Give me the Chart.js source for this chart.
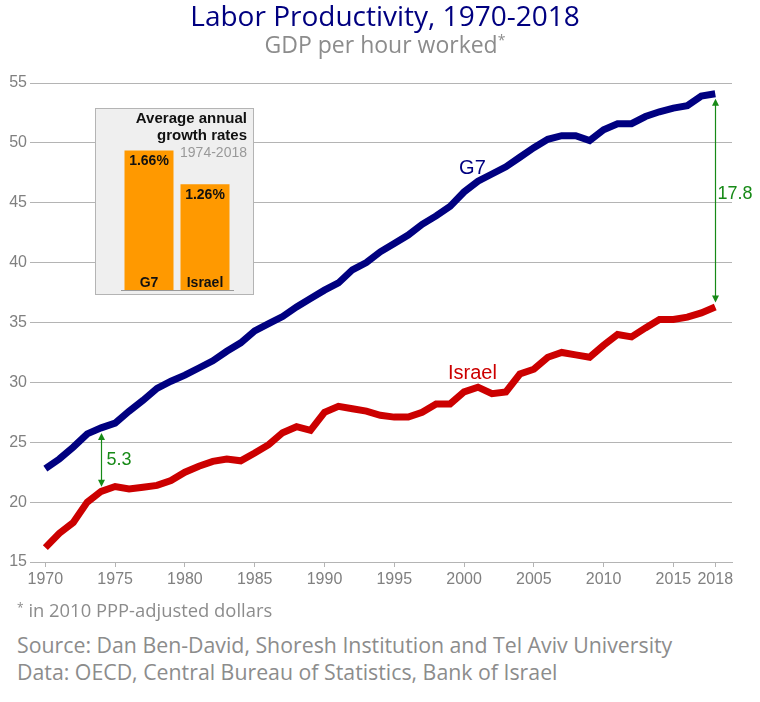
<!DOCTYPE html>
<html>
<head>
<meta charset="utf-8">
<script src="https://cdn.jsdelivr.net/npm/chart.js@4"></script>
<style>
  body { margin: 0; background: #fff; }
  #wrap { position: relative; width: 760px; height: 702px; overflow: hidden; }
  #main { position: absolute; left: 0; top: 0; }
  .txt { position: absolute; white-space: nowrap; line-height: 1; font-family: "Open Sans", Lato, sans-serif; }
  #title { left: 0; width: 770px; top: 1px; text-align: center; font-size: 28px; color: #000080; }
  #subtitle { left: 0; width: 770px; top: 33px; text-align: center; font-size: 23px; color: #8c8c8c; }
  #subtitle sup { font-size: 14px; vertical-align: 8px; line-height: 0; }
  #note { left: 17px; top: 601px; font-size: 18.4px; color: #8c8c8c; }
  #note sup { font-size: 12px; vertical-align: 5px; line-height: 0; }
  #source { left: 17px; top: 634px; font-size: 21.3px; color: #8c8c8c; }
  #data { left: 17px; top: 661px; font-size: 21.3px; color: #8c8c8c; }
  #inset { position: absolute; left: 95px; top: 108px; width: 157px; height: 185px;
           background: #efefef; border: 1px solid #b4b4b4; }
</style>
</head>
<body>
<div id="wrap">
  <canvas id="main" width="760" height="600"></canvas>
  <div id="inset"><canvas id="chart-growth" width="157" height="185"></canvas></div>
  <div class="txt" id="title">Labor Productivity, 1970-2018</div>
  <div class="txt" id="subtitle">GDP per hour worked<sup>*</sup></div>
  <div class="txt" id="note"><sup>*</sup> in 2010 PPP-adjusted dollars</div>
  <div class="txt" id="source">Source: Dan Ben-David, Shoresh Institution and Tel Aviv University</div>
  <div class="txt" id="data">Data: OECD, Central Bureau of Statistics, Bank of Israel</div>
</div>
<script>
const years = [
    1970, 1971, 1972, 1973, 1974, 1975, 1976, 1977, 1978, 1979,
    1980, 1981, 1982, 1983, 1984, 1985, 1986, 1987, 1988, 1989,
    1990, 1991, 1992, 1993, 1994, 1995, 1996, 1997, 1998, 1999,
    2000, 2001, 2002, 2003, 2004, 2005, 2006, 2007, 2008, 2009,
    2010, 2011, 2012, 2013, 2014, 2015, 2016, 2017, 2018
];

const g7 = [
    22.8, 23.6, 24.6, 25.7, 26.2, 26.6, 27.6, 28.5, 29.5, 30.1,
    30.6, 31.2, 31.8, 32.6, 33.3, 34.3, 34.9, 35.5, 36.3, 37.0,
    37.7, 38.3, 39.4, 40.0, 40.9, 41.6, 42.3, 43.2, 43.9, 44.7,
    45.9, 46.8, 47.4, 48.0, 48.8, 49.6, 50.3, 50.6, 50.6, 50.2,
    51.1, 51.6, 51.6, 52.2, 52.6, 52.9, 53.1, 53.9, 54.1
];

const israel = [
    16.2, 17.4, 18.3, 20.0, 20.9, 21.3, 21.1, 21.25, 21.4, 21.8,
    22.5, 23.0, 23.4, 23.6, 23.45, 24.1, 24.8, 25.8, 26.3, 26.0,
    27.5, 28.0, 27.8, 27.6, 27.25, 27.1, 27.1, 27.5, 28.2, 28.2,
    29.2, 29.6, 29.05, 29.2, 30.7, 31.1, 32.1, 32.5, 32.3, 32.1,
    33.1, 34.0, 33.8, 34.55, 35.25, 35.25, 35.45, 35.8, 36.3
];

const xTicks = [1970, 1975, 1980, 1985, 1990, 1995, 2000, 2005, 2010, 2015, 2018];
const gapYears = [1974, 2018];

const growthLabels = ['G7', 'Israel'];
const growthRates = [1.66, 1.26];

const NAVY = '#000080';
const RED = '#cc0000';
const GREEN = '#178a17';
const GRID = '#b4b4b4';
const TICK = '#808080';

// labels placed next to the lines, and the gap arrows
const annotations = {
    id: 'annotations',
    afterDatasetsDraw(chart) {
        const ctx = chart.ctx;
        const x = chart.scales.x;
        const y = chart.scales.y;
        ctx.save();
        ctx.font = '20px "Liberation Sans", Arial, sans-serif';
        ctx.textAlign = 'center';
        ctx.textBaseline = 'middle';
        ctx.fillStyle = NAVY;
        ctx.fillText('G7', x.getPixelForValue(2000.6), y.getPixelForValue(47.9));
        ctx.fillStyle = RED;
        ctx.fillText('Israel', x.getPixelForValue(2000.6), y.getPixelForValue(30.75));

        gapYears.forEach((year, n) => {
            const i = years.indexOf(year);
            const px = Math.round(x.getPixelForValue(year)) + 0.5;
            const top = y.getPixelForValue(g7[i]) + 5;
            const bottom = y.getPixelForValue(israel[i]) - 4.5;
            ctx.strokeStyle = GREEN;
            ctx.fillStyle = GREEN;
            ctx.lineWidth = 1.2;
            ctx.beginPath();
            ctx.moveTo(px, top + 5);
            ctx.lineTo(px, bottom - 5);
            ctx.stroke();
            ctx.beginPath();
            ctx.moveTo(px, top);
            ctx.lineTo(px - 3.5, top + 7);
            ctx.lineTo(px + 3.5, top + 7);
            ctx.closePath();
            ctx.fill();
            ctx.beginPath();
            ctx.moveTo(px, bottom);
            ctx.lineTo(px - 3.5, bottom - 7);
            ctx.lineTo(px + 3.5, bottom - 7);
            ctx.closePath();
            ctx.fill();

            ctx.font = '18px "Liberation Sans", Arial, sans-serif';
            ctx.textAlign = 'left';
            const mid = (top + bottom) / 2 + (n === 0 ? 0 : -7);
            ctx.fillText((g7[i] - israel[i]).toFixed(1), px + (n === 0 ? 5 : 2), mid);
        });
        ctx.restore();
    }
};

new Chart(document.getElementById('main').getContext('2d'), {
    type: 'line',
    data: {
        datasets: [
            {
                label: 'G7',
                data: years.map((yr, i) => ({ x: yr, y: g7[i] })),
                borderColor: NAVY,
                borderWidth: 7,
                tension: 0,
                pointRadius: 0
            },
            {
                label: 'Israel',
                data: years.map((yr, i) => ({ x: yr, y: israel[i] })),
                borderColor: RED,
                borderWidth: 7,
                tension: 0,
                pointRadius: 0
            }
        ]
    },
    options: {
        responsive: false,
        animation: false,
        layout: { padding: { left: 0, right: 28, top: 83, bottom: 0 } },
        scales: {
            x: {
                type: 'linear',
                min: 1968.9,
                max: 2019.2,
                afterBuildTicks: (scale) => { scale.ticks = xTicks.map(v => ({ value: v })); },
                afterFit: (scale) => { scale.height = 38; },
                grid: { drawOnChartArea: false, drawTicks: true, tickLength: 5, color: GRID },
                border: { display: true, color: GRID },
                ticks: {
                    color: TICK,
                    font: { family: '"Liberation Sans", Arial, sans-serif', size: 16 },
                    padding: 3,
                    maxRotation: 0,
                    autoSkip: false,
                    callback: v => String(v)
                }
            },
            y: {
                min: 15,
                max: 55,
                afterFit: (scale) => { scale.width = 30; },
                grid: { color: GRID, drawTicks: false },
                border: { display: false },
                ticks: {
                    stepSize: 5,
                    color: TICK,
                    padding: 3,
                    font: { family: '"Liberation Sans", Arial, sans-serif', size: 16 }
                }
            }
        },
        plugins: {
            legend: { display: false },
            tooltip: { enabled: false }
        }
    },
    plugins: [annotations]
});

// inset: titles and labels inside the bars
const insetText = {
    id: 'insetText',
    afterDatasetsDraw(chart) {
        const ctx = chart.ctx;
        const right = 151;
        ctx.save();
        ctx.textAlign = 'right';
        ctx.textBaseline = 'middle';
        ctx.fillStyle = '#111';
        ctx.font = 'bold 15px "Liberation Sans", Arial, sans-serif';
        ctx.fillText('Average annual', right, 10);
        ctx.fillText('growth rates', right, 27);
        ctx.fillStyle = '#999';
        ctx.font = '14px "Liberation Sans", Arial, sans-serif';
        ctx.fillText('1974-2018', right, 44);

        ctx.textAlign = 'center';
        ctx.fillStyle = '#111';
        ctx.font = 'bold 14px "Liberation Sans", Arial, sans-serif';
        chart.getDatasetMeta(0).data.forEach((bar, i) => {
            ctx.fillText(growthRates[i].toFixed(2) + '%', bar.x, bar.y + 11);
            ctx.fillText(growthLabels[i], bar.x, chart.chartArea.bottom - 7);
        });
        ctx.restore();
    }
};

new Chart(document.getElementById('chart-growth').getContext('2d'), {
    type: 'bar',
    data: {
        labels: growthLabels,
        datasets: [{
            data: growthRates,
            backgroundColor: '#ff9900',
            barPercentage: 0.875,
            categoryPercentage: 1
        }]
    },
    options: {
        responsive: false,
        animation: false,
        layout: { padding: { left: 25, right: 20, top: 13, bottom: 4 } },
        scales: {
            x: {
                afterFit: (scale) => { scale.height = 0; },
                grid: { display: false },
                border: { display: true, color: '#999' },
                ticks: { display: false }
            },
            y: { display: false, min: 0, max: 2 }
        },
        plugins: {
            legend: { display: false },
            tooltip: { enabled: false }
        }
    },
    plugins: [insetText]
});
</script>
</body>
</html>
